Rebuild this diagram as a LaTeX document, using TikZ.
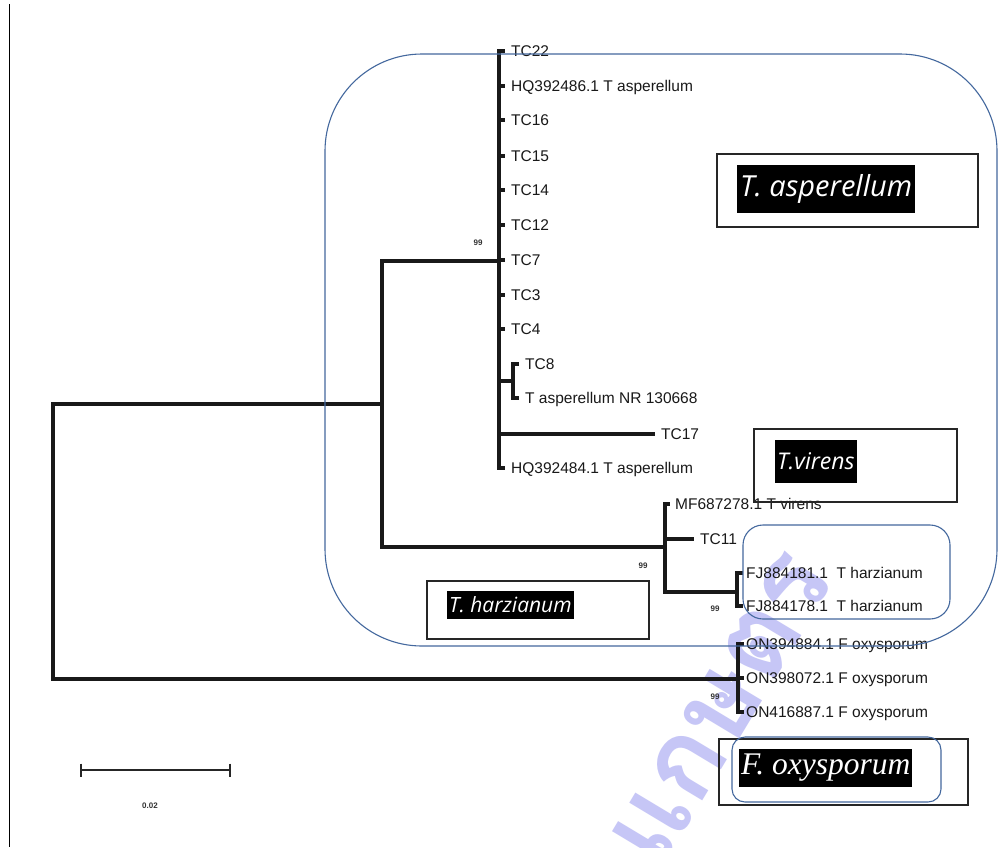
\documentclass[tikz,border=0pt]{standalone}
\usepackage{fontspec}
\setmainfont{Liberation Sans}
\newfontfamily\cladefont{Open Sans}
\newfontfamily\fusfont{Liberation Serif}
\newfontfamily\thaifont[Script=Thai]{Loma}
\definecolor{cladeblue}{RGB}{68,104,158}
\definecolor{wmark}{RGB}{198,198,246}
\begin{document}
\begin{tikzpicture}[x=1pt,y=-1pt,
  branch/.style={line width=3.1pt,black!90,line cap=rect,line join=miter},
  leaf/.style={font=\fontsize{15.5}{18}\selectfont,anchor=base west,inner sep=0pt,text=black!90},
  boot/.style={font=\fontsize{8}{9}\bfseries\selectfont,inner sep=0pt,text=black!80},
  labframe/.style={draw=black!85,line width=1.3pt,inner sep=0pt},
  labfill/.style={fill=black,text=white,inner sep=0pt,anchor=west},
  cladebox/.style={draw=cladeblue,line width=1.1pt}]
\useasboundingbox (0,0) rectangle (1000,847);
\fill[white] (0,0) rectangle (1000,847);

% watermark
\begin{scope}
\clip (0,0) rectangle (1000,847);
\node[text=wmark,font=\thaifont\bfseries\fontsize{110}{110}\selectfont,rotate=59,anchor=east,inner sep=0pt] (wm) at (800,556) {แก่นเกษตร};
\end{scope}

% page rule on the left
\coordinate (ruleTop) at (9.5,4);
\coordinate (ruleBot) at (9.5,847);
\draw[line width=1.2pt,black] (ruleTop) -- (ruleBot);

% internal nodes of the tree
\coordinate (root) at (53,541);
\coordinate (nA) at (382,404);
\coordinate (nAsp) at (499,261);
\coordinate (nTC8) at (513,381);
\coordinate (nV) at (665,547);
\coordinate (nH) at (737,592);
\coordinate (nF) at (738,679);

% tips
\coordinate (tc22) at (503,51);
\coordinate (hq486) at (503,86);
\coordinate (tc16) at (503,120);
\coordinate (tc15) at (503,156);
\coordinate (tc14) at (503,190);
\coordinate (tc12) at (503,225);
\coordinate (tc7) at (503,260);
\coordinate (tc3) at (503,295);
\coordinate (tc4) at (503,329);
\coordinate (tc8) at (517,364);
\coordinate (nr) at (517,398);
\coordinate (tc17) at (653,434);
\coordinate (hq484) at (503,468);
\coordinate (mf) at (668,504);
\coordinate (tc11) at (692,539);
\coordinate (fj181) at (741,573);
\coordinate (fj178) at (741,606);
\coordinate (on884) at (742,644);
\coordinate (on072) at (742,678);
\coordinate (on887) at (742,712);

% branches
\draw[branch] (root) |- (nA);
\draw[branch] (root) |- (nF);
\draw[branch] (nA) |- (nAsp);
\draw[branch] (nA) |- (nV);
\foreach \t in {tc22,hq486,tc16,tc15,tc14,tc12,tc7,tc3,tc4,tc17,hq484}
  \draw[branch] (nAsp) |- (\t);
\draw[branch] (nAsp) |- (nTC8);
\draw[branch] (nTC8) |- (tc8);
\draw[branch] (nTC8) |- (nr);
\draw[branch] (nV) |- (mf);
\draw[branch] (nV) |- (tc11);
\draw[branch] (nV) |- (nH);
\draw[branch] (nH) |- (fj181);
\draw[branch] (nH) |- (fj178);
\draw[branch] (nF) |- (on884);
\draw[branch] (nF) |- (on072);
\draw[branch] (nF) |- (on887);

% tip labels
\node[leaf] (l-tc22) at (511,56.5) {TC22};
\node[leaf] (l-hq486) at (511,91.5) {HQ392486.1 T asperellum};
\node[leaf] (l-tc16) at (511,125.5) {TC16};
\node[leaf] (l-tc15) at (511,161.5) {TC15};
\node[leaf] (l-tc14) at (511,195.5) {TC14};
\node[leaf] (l-tc12) at (511,230.5) {TC12};
\node[leaf] (l-tc7) at (511,265.5) {TC7};
\node[leaf] (l-tc3) at (511,300.5) {TC3};
\node[leaf] (l-tc4) at (511,334.5) {TC4};
\node[leaf] (l-tc8) at (525,369.5) {TC8};
\node[leaf] (l-nr) at (525,403.5) {T asperellum NR 130668};
\node[leaf] (l-tc17) at (661,439.5) {TC17};
\node[leaf] (l-hq484) at (511,473.5) {HQ392484.1 T asperellum};
\node[leaf] (l-mf) at (675,509.5) {MF687278.1 T virens};
\node[leaf] (l-tc11) at (700,544.5) {TC11};
\node[leaf] (l-fj181) at (746,578.5) {FJ884181.1\ \ T harzianum};
\node[leaf] (l-fj178) at (746,611.5) {FJ884178.1\ \ T harzianum};
\node[leaf] (l-on884) at (746,649.5) {ON394884.1 F oxysporum};
\node[leaf] (l-on072) at (746,683.5) {ON398072.1 F oxysporum};
\node[leaf] (l-on887) at (746,717.5) {ON416887.1 F oxysporum};

% bootstrap values
\node[boot] (b1) at (478,243) {99};
\node[boot] (b2) at (643,566) {99};
\node[boot] (b3) at (715,609) {99};
\node[boot] (b4) at (715,697) {99};

% scale bar
\coordinate (sbL) at (81,770);
\coordinate (sbR) at (230,770);
\draw[line width=2.6pt,black!85] (sbL) -- (sbR);
\draw[line width=2.6pt,black!85] ([yshift=6.5pt]sbL) -- ([yshift=-6.5pt]sbL);
\draw[line width=2.6pt,black!85] ([yshift=6.5pt]sbR) -- ([yshift=-6.5pt]sbR);
\node[boot] (sbT) at (150,806) {0.02};

% clade name boxes
\node[labframe,minimum width=261pt,minimum height=73pt] (aspFrame) at (847.5,190.5) {};
\node[labfill,minimum height=48pt,inner xsep=3pt,font=\cladefont\itshape\fontsize{29}{30}\selectfont] (aspName) at (737,189) {T.\ asperellum};

\node[labframe,minimum width=203pt,minimum height=73pt] (virFrame) at (855.5,465.5) {};
\node[labfill,minimum height=43pt,inner xsep=2pt,font=\cladefont\itshape\fontsize{23}{24}\selectfont] (virName) at (775,461.5) {T.virens};

\node[labframe,minimum width=222pt,minimum height=58pt] (harFrame) at (538,610) {};
\node[labfill,minimum height=28pt,inner xsep=2pt,font=\cladefont\itshape\fontsize{21}{22}\selectfont] (harName) at (447,605) {T.\ harzianum};

\node[labframe,minimum width=249pt,minimum height=66pt] (fusFrame) at (843.5,772) {};
\node[labfill,minimum height=38pt,inner xsep=2pt,font=\fusfont\itshape\fontsize{31.5}{32}\selectfont] (fusName) at (739,768) {F.\ oxysporum};

% clade outlines
\draw[cladebox,rounded corners=97pt] (325,54) rectangle (997,646);
\draw[cladebox,rounded corners=20pt] (743,525) rectangle (950,619);
\draw[cladebox,rounded corners=13pt] (732,737) rectangle (941,802);
\end{tikzpicture}
\end{document}
